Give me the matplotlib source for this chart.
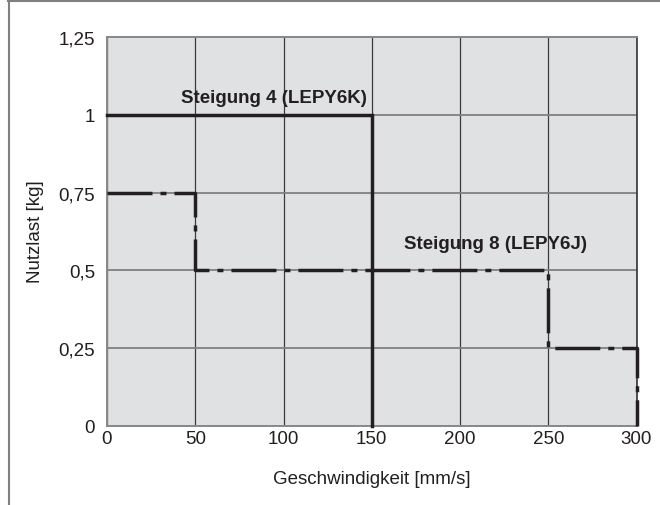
import matplotlib.pyplot as plt
from matplotlib.lines import Line2D

plt.rcParams['font.family'] = ['Liberation Sans', 'DejaVu Sans']

# data
speed_4 = [0, 150, 150]
load_4 = [1.0, 1.0, 0.0]
speed_8 = [0, 50, 50, 250, 250, 300, 300]
load_8 = [0.75, 0.75, 0.5, 0.5, 0.25, 0.25, 0.0]
x_ticks = [0, 50, 100, 150, 200, 250, 300]
y_ticks = [0, 0.25, 0.5, 0.75, 1.0, 1.25]
y_labels = ["0", "0,25", "0,5", "0,75", "1", "1,25"]

fs = 13.5
ink = "#231f20"

fig = plt.figure(figsize=(6.6, 5.06), dpi=100)
ax = fig.add_axes([107 / 660, 79 / 506, 529.5 / 660, 389 / 506])
ax.set_facecolor("#e0e1e3")

ax.set_xlim(0, 300)
ax.set_ylim(0, 1.25)
ax.set_xticks(x_ticks)
ax.set_yticks(y_ticks)
ax.set_yticklabels(y_labels)
ax.tick_params(length=0, labelsize=fs, colors=ink)
ax.tick_params(axis="x", pad=3)
ax.tick_params(axis="y", pad=8.5)

ax.xaxis.grid(True, color="#3a3a3a", linewidth=0.9)
ax.yaxis.grid(True, color="#808080", linewidth=1.3)
ax.set_axisbelow(True)
for s in ["left", "bottom", "top"]:
    ax.spines[s].set_color("#888888")
    ax.spines[s].set_linewidth(1.4)
ax.spines["right"].set_color("#333333")
ax.spines["right"].set_linewidth(1.2)

# Steigung 4 - solid
ax.plot(speed_4, load_4, color=ink, linewidth=2.5, solid_joinstyle="miter",
        clip_on=False, zorder=3)
# Steigung 8 - dash dot
ax.plot(speed_8, load_8, color=ink, linewidth=2.5, dashes=(12.96, 2.3, 1.73, 2.3),
        dash_capstyle="butt", clip_on=False, zorder=3)

ax.text(41.9, 1.057, "Steigung 4 (LEPY6K)", fontsize=fs, fontweight="bold",
        color=ink, va="center", ha="left")
ax.text(168.3, 0.588, "Steigung 8 (LEPY6J)", fontsize=fs, fontweight="bold",
        color=ink, va="center", ha="left")

ax.set_xlabel("Geschwindigkeit [mm/s]", fontsize=fs, color=ink)
ax.set_ylabel("Nutzlast [kg]", fontsize=fs, color=ink)
ax.xaxis.set_label_coords(0.5, -0.113)
ax.yaxis.set_label_coords(-0.119, 0.503)

# frame lines of the figure (top and left only)
fig.add_artist(Line2D([8 / 660, 1], [1 - 1.5 / 506, 1 - 1.5 / 506], color="#808080", linewidth=1.5))
fig.add_artist(Line2D([8.5 / 660, 8.5 / 660], [0, 1 - 1.5 / 506], color="#808080", linewidth=1.5))

fig.savefig("out.png", dpi=100)
